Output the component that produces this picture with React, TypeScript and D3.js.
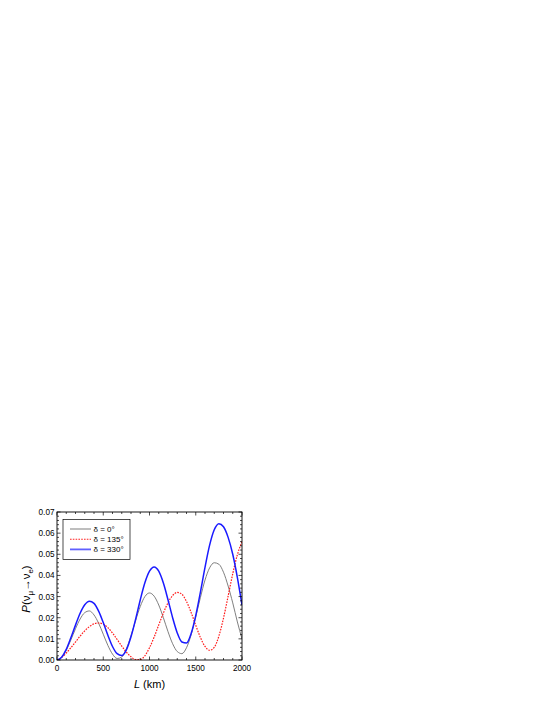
import React from "react";
import * as d3 from "d3";

const lengthsKm = [
  0, 50, 100, 150, 200, 250, 300, 350, 400, 450, 500, 550, 600, 650, 700, 750, 800, 850, 900, 950,
  1000, 1050, 1100, 1150, 1200, 1250, 1300, 1350, 1400, 1450, 1500, 1550, 1600, 1650, 1700, 1750,
  1800, 1850, 1900, 1950, 2000,
];

const probDelta0 = [
  0, 0.0012, 0.0046, 0.0095, 0.0148, 0.0194, 0.0224, 0.0232, 0.0213, 0.0174, 0.0122, 0.0069, 0.0028,
  0.0007, 0.0014, 0.0053, 0.0115, 0.0187, 0.0253, 0.03, 0.0317, 0.0302, 0.026, 0.02, 0.0134, 0.0077,
  0.004, 0.003, 0.0058, 0.0119, 0.0204, 0.0295, 0.0378, 0.0436, 0.046, 0.0453, 0.0415, 0.035, 0.027,
  0.018, 0.01,
];

const probDelta135 = [
  0, 0.0012, 0.0033, 0.0058, 0.0085, 0.0113, 0.0138, 0.0158, 0.0171, 0.0175, 0.0169, 0.0153, 0.0128,
  0.0097, 0.0066, 0.0037, 0.0015, 0.0002, 0.0002, 0.002, 0.0058, 0.0108, 0.0166, 0.0222, 0.0271,
  0.0305, 0.032, 0.0311, 0.0277, 0.0225, 0.0164, 0.0107, 0.0064, 0.0046, 0.006, 0.0113, 0.0198,
  0.0302, 0.0408, 0.0498, 0.0559,
];

const probDelta330 = [
  0, 0.0013, 0.005, 0.0105, 0.0165, 0.0221, 0.0261, 0.0278, 0.0268, 0.0231, 0.0177, 0.0117, 0.0064,
  0.003, 0.0021, 0.0048, 0.011, 0.0193, 0.0284, 0.0365, 0.042, 0.044, 0.042, 0.0364, 0.0285, 0.02,
  0.0128, 0.0085, 0.008, 0.0125, 0.021, 0.032, 0.0438, 0.0543, 0.0616, 0.0645, 0.063, 0.058, 0.05,
  0.039, 0.026,
];

const xTicks = [0, 500, 1000, 1500, 2000];
const yTicks = [0, 0.01, 0.02, 0.03, 0.04, 0.05, 0.06, 0.07];

const seriesList = [
  { label: "δ = 0°", values: probDelta0, color: "#707070", width: 0.9, legendColor: "#a8a8a8", legendWidth: 1.5, dash: "" },
  { label: "δ = 135°", values: probDelta135, color: "#ff1a1a", width: 1.2, legendColor: "#ff2020", legendWidth: 1.1, dash: "1.6,1.2" },
  { label: "δ = 330°", values: probDelta330, color: "#1a1aff", width: 1.5, legendColor: "#6060ff", legendWidth: 1.8, dash: "" },
];

const App = () => {
  const left = 57, right = 242, top = 512, bottom = 660;
  const x = d3.scaleLinear().domain([0, 2000]).range([left, right]);
  const y = d3.scaleLinear().domain([0, 0.07]).range([bottom, top]);

  const line = (vals: number[]) =>
    d3
      .line<number>()
      .x((d, i) => x(lengthsKm[i]))
      .y((d) => y(d))
      .curve(d3.curveMonotoneX)(vals) || "";

  const xMinor = d3.range(0, 2001, 100).filter((v) => v % 500 !== 0);
  const yMinor = d3.range(0, 36).map((i) => i * 0.002).filter((v) => v <= 0.07 && Math.round(v * 1000) % 10 !== 0);

  const font = "'Liberation Sans', Arial, sans-serif";

  return (
    <svg width={545} height={705} style={{ position: "absolute", left: 0, top: 0 }} fontFamily={font}>
      <rect width={545} height={705} fill="#fff" />
      <defs>
        <clipPath id="plotclip">
          <rect x={left} y={top} width={right - left} height={bottom - top} />
        </clipPath>
      </defs>

      <g clipPath="url(#plotclip)">
        {seriesList.map((s) => (
          <path
            key={s.label}
            d={line(s.values)}
            fill="none"
            stroke={s.color}
            strokeWidth={s.width}
            strokeDasharray={s.dash || undefined}
          />
        ))}
      </g>

      {/* frame */}
      <rect x={left} y={top} width={right - left} height={bottom - top} fill="none" stroke="#000" strokeWidth={0.9} />

      {/* ticks, inward on all four sides */}
      <g stroke="#000" strokeWidth={0.7}>
        {xTicks.map((t) => (
          <g key={"xt" + t}>
            <line x1={x(t)} x2={x(t)} y1={bottom} y2={bottom - 3.5} />
            <line x1={x(t)} x2={x(t)} y1={top} y2={top + 3.5} />
          </g>
        ))}
        {xMinor.map((t) => (
          <g key={"xm" + t}>
            <line x1={x(t)} x2={x(t)} y1={bottom} y2={bottom - 2} />
            <line x1={x(t)} x2={x(t)} y1={top} y2={top + 2} />
          </g>
        ))}
        {yTicks.map((t) => (
          <g key={"yt" + t}>
            <line x1={left} x2={left + 3.5} y1={y(t)} y2={y(t)} />
            <line x1={right} x2={right - 3.5} y1={y(t)} y2={y(t)} />
          </g>
        ))}
        {yMinor.map((t) => (
          <g key={"ym" + t}>
            <line x1={left} x2={left + 2} y1={y(t)} y2={y(t)} />
            <line x1={right} x2={right - 2} y1={y(t)} y2={y(t)} />
          </g>
        ))}
      </g>

      {/* tick labels */}
      <g fontSize={8.2} fill="#000">
        {xTicks.map((t) => (
          <text key={"xl" + t} x={x(t)} y={bottom + 11} textAnchor="middle">
            {t}
          </text>
        ))}
        {yTicks.map((t) => (
          <text key={"yl" + t} x={left - 2.5} y={y(t) + 3} textAnchor="end">
            {t.toFixed(2)}
          </text>
        ))}
      </g>

      {/* axis titles */}
      <text x={(left + right) / 2} y={688} textAnchor="middle" fontSize={11}>
        <tspan fontStyle="italic">L</tspan> (km)
      </text>
      <text transform={`translate(30,589) rotate(-90)`} textAnchor="middle" fontSize={11.5}>
        <tspan fontStyle="italic">P</tspan>(ν
        <tspan fontSize={8} dy={3}>μ</tspan>
        <tspan dy={-3}>→ν</tspan>
        <tspan fontSize={8} dy={3}>e</tspan>
        <tspan dy={-3}>)</tspan>
      </text>

      {/* legend */}
      <rect x={63} y={519.5} width={67} height={40} fill="#fff" stroke="#000" strokeWidth={0.7} />
      {seriesList.map((s, i) => (
        <g key={"lg" + s.label}>
          <line
            x1={70}
            x2={91}
            y1={529 + i * 10.2}
            y2={529 + i * 10.2}
            stroke={s.legendColor}
            strokeWidth={s.legendWidth}
            strokeDasharray={s.dash || undefined}
          />
          <text x={93.5} y={532 + i * 10.2} fontSize={8}>
            {s.label}
          </text>
        </g>
      ))}
    </svg>
  );
};

export default App;
